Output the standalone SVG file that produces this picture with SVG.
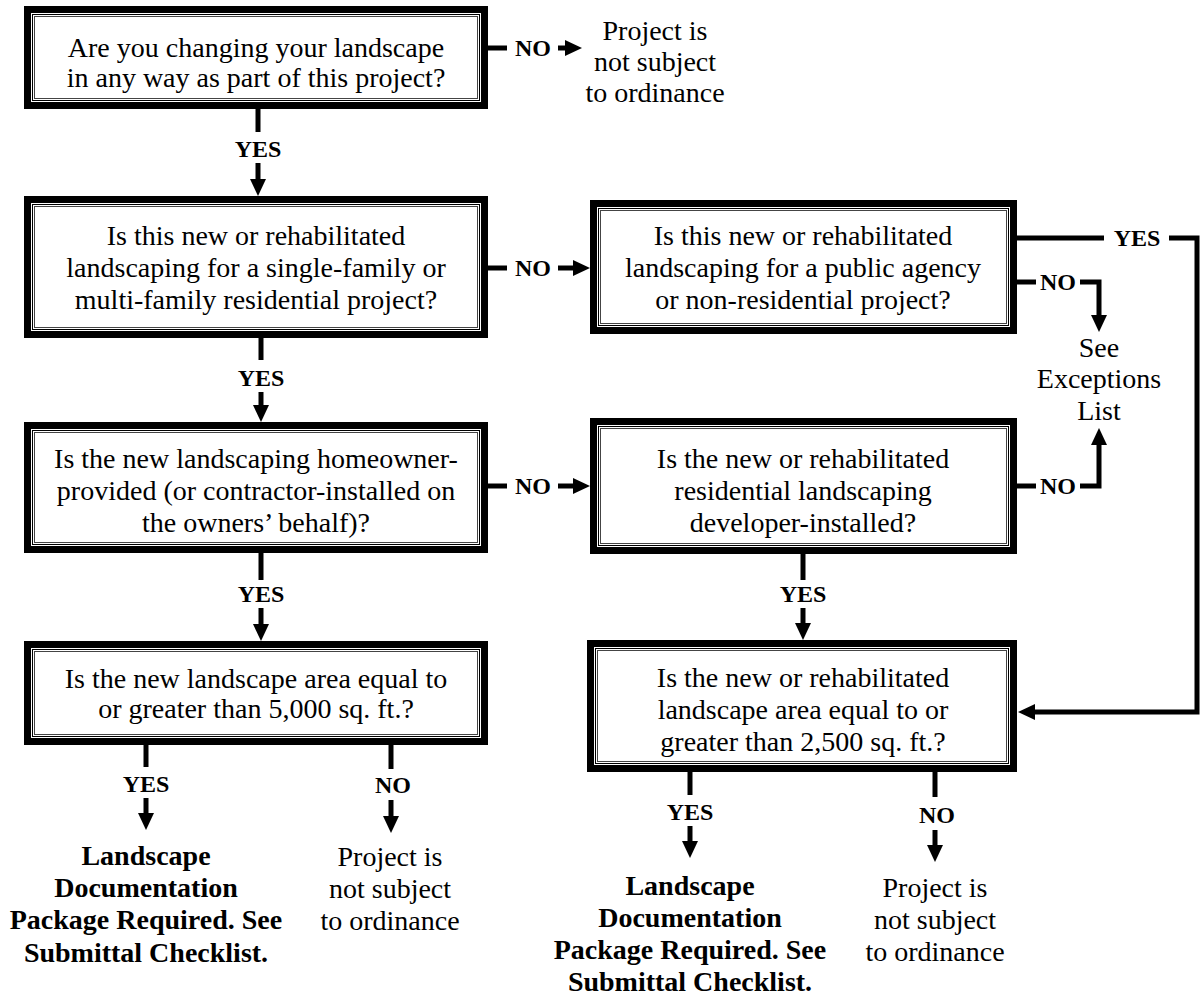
<svg xmlns="http://www.w3.org/2000/svg" width="1204" height="998" viewBox="0 0 1204 998">
<defs>
<style>
.thick{fill:none;stroke:#000;stroke-width:7}
.thin1{fill:none;stroke:#000;stroke-width:1}
.thin2{fill:none;stroke:#444;stroke-width:1}
.t{font-family:"Liberation Serif","Times New Roman",serif;font-size:28px;fill:#000;text-anchor:middle}
.b{font-family:"Liberation Serif","Times New Roman",serif;font-size:28px;font-weight:bold;fill:#000;text-anchor:middle}
.lbl{font-family:"Liberation Serif","Times New Roman",serif;font-size:24px;font-weight:bold;fill:#000;text-anchor:middle}
.ln{fill:none;stroke:#000;stroke-width:5}
</style>
<marker id="ah" viewBox="0 0 17 16" refX="7" refY="8" markerWidth="17" markerHeight="16" markerUnits="userSpaceOnUse" orient="auto">
<path d="M0,0 L17,8 L0,16 z" fill="#000"/>
</marker>
</defs>
<rect x="0" y="0" width="1204" height="998" fill="#fff"/>

<g id="n1">
<rect class="thick" x="27.5" y="9.5" width="457" height="96"/>
<rect class="thin1" x="32.5" y="14.5" width="447" height="86"/>
<rect class="thin2" x="34.5" y="16.5" width="443" height="82"/>
<text class="t" x="256" y="57">Are you changing your landscape</text>
<text class="t" x="256" y="87">in any way as part of this project?</text>
</g>

<g id="n1no">
<text class="t" x="655" y="40">Project is</text>
<text class="t" x="655" y="71">not subject</text>
<text class="t" x="655" y="102">to ordinance</text>
</g>

<g id="n2">
<rect class="thick" x="27.5" y="199.5" width="457" height="135"/>
<rect class="thin1" x="32.5" y="204.5" width="447" height="125"/>
<rect class="thin2" x="34.5" y="206.5" width="443" height="121"/>
<text class="t" x="256" y="245">Is this new or rehabilitated</text>
<text class="t" x="256" y="277">landscaping for a single-family or</text>
<text class="t" x="256" y="309">multi-family residential project?</text>
</g>

<g id="nA">
<rect class="thick" x="593.5" y="203.5" width="420" height="127"/>
<rect class="thin1" x="598.5" y="208.5" width="410" height="117"/>
<rect class="thin2" x="600.5" y="210.5" width="406" height="113"/>
<text class="t" x="803" y="245">Is this new or rehabilitated</text>
<text class="t" x="803" y="277">landscaping for a public agency</text>
<text class="t" x="803" y="309">or non-residential project?</text>
</g>

<g id="nExc">
<text class="t" x="1099" y="357">See</text>
<text class="t" x="1099" y="388">Exceptions</text>
<text class="t" x="1099" y="420">List</text>
</g>

<g id="n3">
<rect class="thick" x="27.5" y="425.5" width="457" height="124"/>
<rect class="thin1" x="32.5" y="430.5" width="447" height="114"/>
<rect class="thin2" x="34.5" y="432.5" width="443" height="110"/>
<text class="t" x="256" y="468">Is the new landscaping homeowner-</text>
<text class="t" x="256" y="500">provided (or contractor-installed on</text>
<text class="t" x="256" y="532">the owners’ behalf)?</text>
</g>

<g id="nB">
<rect class="thick" x="593.5" y="421.5" width="420" height="129"/>
<rect class="thin1" x="598.5" y="426.5" width="410" height="119"/>
<rect class="thin2" x="600.5" y="428.5" width="406" height="115"/>
<text class="t" x="803" y="468">Is the new or rehabilitated</text>
<text class="t" x="803" y="500">residential landscaping</text>
<text class="t" x="803" y="532">developer-installed?</text>
</g>

<g id="n4">
<rect class="thick" x="27.5" y="644.5" width="457" height="97"/>
<rect class="thin1" x="32.5" y="649.5" width="447" height="87"/>
<rect class="thin2" x="34.5" y="651.5" width="443" height="83"/>
<text class="t" x="256" y="688">Is the new landscape area equal to</text>
<text class="t" x="256" y="718">or greater than 5,000 sq. ft.?</text>
</g>

<g id="nC">
<rect class="thick" x="590.5" y="643.5" width="423" height="125"/>
<rect class="thin1" x="595.5" y="648.5" width="413" height="115"/>
<rect class="thin2" x="597.5" y="650.5" width="409" height="111"/>
<text class="t" x="803" y="687">Is the new or rehabilitated</text>
<text class="t" x="803" y="719">landscape area equal to or</text>
<text class="t" x="803" y="751">greater than 2,500 sq. ft.?</text>
</g>

<g id="n4yes">
<text class="b" x="146" y="865">Landscape</text>
<text class="b" x="146" y="897">Documentation</text>
<text class="b" x="146" y="929">Package Required. See</text>
<text class="b" x="146" y="962">Submittal Checklist.</text>
</g>
<g id="n4no">
<text class="t" x="390" y="866">Project is</text>
<text class="t" x="390" y="898">not subject</text>
<text class="t" x="390" y="930">to ordinance</text>
</g>

<g id="nCyes">
<text class="b" x="690" y="895">Landscape</text>
<text class="b" x="690" y="927">Documentation</text>
<text class="b" x="690" y="959">Package Required. See</text>
<text class="b" x="690" y="991">Submittal Checklist.</text>
</g>
<g id="nCno">
<text class="t" x="935" y="897">Project is</text>
<text class="t" x="935" y="929">not subject</text>
<text class="t" x="935" y="961">to ordinance</text>
</g>

<g id="connectors">
<path class="ln" d="M488,48 H507"/>
<text class="lbl" x="533" y="56">NO</text>
<path class="ln" d="M558,48 H572" marker-end="url(#ah)"/>
<path class="ln" d="M258,109 V132"/>
<text class="lbl" x="258" y="157">YES</text>
<path class="ln" d="M258,163 V186" marker-end="url(#ah)"/>
<path class="ln" d="M488,268 H507"/>
<text class="lbl" x="533" y="276">NO</text>
<path class="ln" d="M558,268 H580" marker-end="url(#ah)"/>
<path class="ln" d="M261,338 V360"/>
<text class="lbl" x="261" y="386">YES</text>
<path class="ln" d="M261,392 V412" marker-end="url(#ah)"/>
<path class="ln" d="M1017,238 H1104"/>
<text class="lbl" x="1137" y="246">YES</text>
<path class="ln" d="M1169,238 H1197 V712 H1028" marker-end="url(#ah)"/>
<path class="ln" d="M1017,282 H1036"/>
<text class="lbl" x="1058" y="290">NO</text>
<path class="ln" d="M1080,282 H1099 V322" marker-end="url(#ah)"/>
<path class="ln" d="M1017,486 H1036"/>
<text class="lbl" x="1058" y="494">NO</text>
<path class="ln" d="M1080,486 H1099 V438" marker-end="url(#ah)"/>
<path class="ln" d="M488,486 H507"/>
<text class="lbl" x="533" y="494">NO</text>
<path class="ln" d="M558,486 H580" marker-end="url(#ah)"/>
<path class="ln" d="M261,553 V580"/>
<text class="lbl" x="261" y="602">YES</text>
<path class="ln" d="M261,608 V631" marker-end="url(#ah)"/>
<path class="ln" d="M803,554 V580"/>
<text class="lbl" x="803" y="602">YES</text>
<path class="ln" d="M803,608 V630" marker-end="url(#ah)"/>
<path class="ln" d="M146,745 V767"/>
<text class="lbl" x="146" y="792">YES</text>
<path class="ln" d="M146,798 V820" marker-end="url(#ah)"/>
<path class="ln" d="M391,745 V769"/>
<text class="lbl" x="393" y="793">NO</text>
<path class="ln" d="M391,800 V823" marker-end="url(#ah)"/>
<path class="ln" d="M690,772 V795"/>
<text class="lbl" x="690" y="820">YES</text>
<path class="ln" d="M690,826 V848" marker-end="url(#ah)"/>
<path class="ln" d="M935,772 V797"/>
<text class="lbl" x="937" y="823">NO</text>
<path class="ln" d="M935,830 V852" marker-end="url(#ah)"/>
</g>
</svg>
